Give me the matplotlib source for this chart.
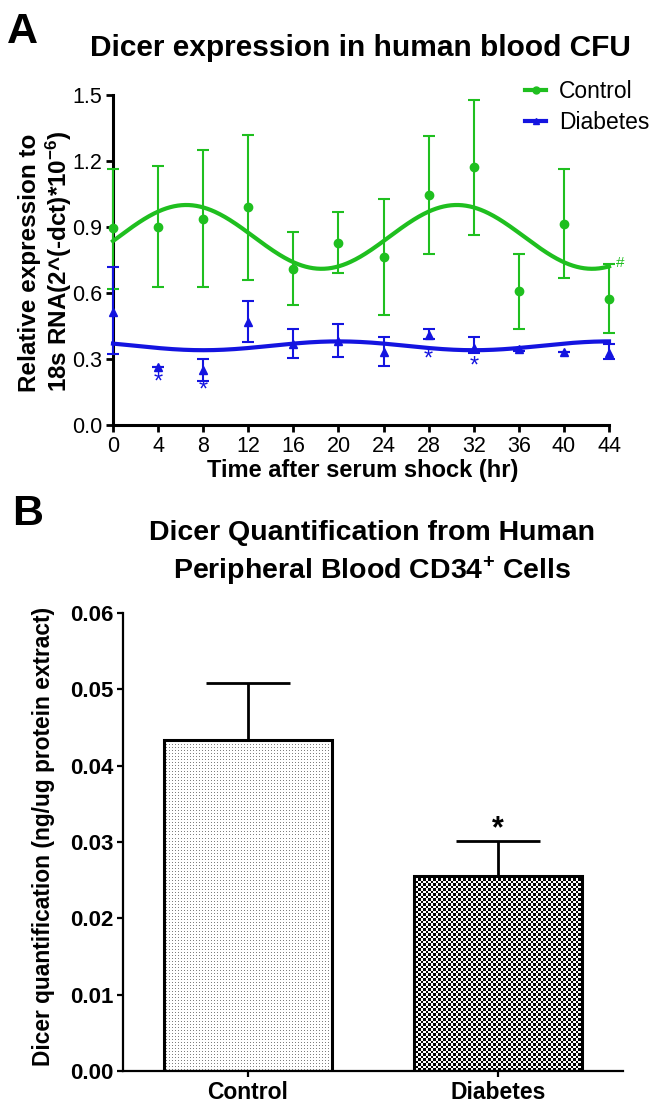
import numpy as np
import matplotlib
matplotlib.use('Agg')
import matplotlib.pyplot as plt
from matplotlib.lines import Line2D

W, H, DPI = 653, 1115, 100
plt.rcParams['font.family'] = ['Liberation Sans', 'DejaVu Sans']
plt.rcParams['mathtext.fontset'] = 'custom'
plt.rcParams['mathtext.rm'] = 'Liberation Sans'
plt.rcParams['mathtext.bf'] = 'Liberation Sans:bold'
plt.rcParams['mathtext.it'] = 'Liberation Sans:italic'

# ---------------- Panel A data ----------------
time_h = [0, 4, 8, 12, 16, 20, 24, 28, 32, 36, 40, 44]
ctrl_mean = [0.894, 0.902, 0.938, 0.989, 0.710, 0.828, 0.763, 1.047, 1.171, 0.607, 0.915, 0.574]
ctrl_low = [0.620, 0.628, 0.628, 0.659, 0.545, 0.689, 0.498, 0.779, 0.864, 0.438, 0.669, 0.420]
ctrl_high = [1.165, 1.178, 1.248, 1.319, 0.878, 0.970, 1.029, 1.313, 1.477, 0.778, 1.163, 0.730]
diab_mean = [0.514, 0.263, 0.249, 0.467, 0.366, 0.384, 0.332, 0.408, 0.350, 0.344, 0.334, 0.326]
diab_low = [0.325, 0.263, 0.201, 0.379, 0.305, 0.310, 0.270, 0.390, 0.326, 0.336, 0.334, 0.298]
diab_high = [0.718, 0.263, 0.301, 0.565, 0.438, 0.458, 0.402, 0.435, 0.400, 0.352, 0.334, 0.366]

# cosinor fits (24 h period)
ctrl_fit_mesor, ctrl_fit_amp, ctrl_fit_acro = 0.855, 0.145, 6.5
diab_fit_mesor, diab_fit_amp, diab_fit_acro = 0.360, 0.020, 20.0
fit_period = 24.0

star_times = [4, 8, 28, 32]
star_y = [0.192, 0.157, 0.297, 0.265]

xticks_a = [0, 4, 8, 12, 16, 20, 24, 28, 32, 36, 40, 44]
yticks_a = [0.0, 0.3, 0.6, 0.9, 1.2, 1.5]

# ---------------- Panel B data ----------------
groups = ['Control', 'Diabetes']
dicer_mean = [0.0434, 0.0255]
dicer_sem = [0.0074, 0.0046]
yticks_b = [0.00, 0.01, 0.02, 0.03, 0.04, 0.05, 0.06]

GREEN = '#1fbf1f'
BLUE = '#1414e0'

fig = plt.figure(figsize=(W / DPI, H / DPI), dpi=DPI)


def fx(px):
    return px / W


def fy(py):
    return 1 - py / H


# ---------------- Panel A ----------------
axA = fig.add_axes([fx(113), fy(425), fx(609) - fx(113), fy(95) - fy(425)])
t = np.array(time_h, dtype=float)
cm = np.array(ctrl_mean); dm = np.array(diab_mean)
c_err = [cm - np.array(ctrl_low), np.array(ctrl_high) - cm]
d_err = [dm - np.array(diab_low), np.array(diab_high) - dm]

tt = np.linspace(0, 44, 400)
axA.plot(tt, ctrl_fit_mesor + ctrl_fit_amp * np.cos(2 * np.pi * (tt - ctrl_fit_acro) / fit_period),
         color=GREEN, lw=3.0, zorder=3, clip_on=False)
axA.plot(tt, diab_fit_mesor + diab_fit_amp * np.cos(2 * np.pi * (tt - diab_fit_acro) / fit_period),
         color=BLUE, lw=3.0, zorder=3, clip_on=False)
eb1 = axA.errorbar(t, cm, yerr=c_err, fmt='o', color=GREEN, ms=6, elinewidth=1.5,
                   capsize=4.5, capthick=1.5, zorder=4, clip_on=False)
eb2 = axA.errorbar(t, dm, yerr=d_err, fmt='^', color=BLUE, ms=5.5, elinewidth=1.5,
                   capsize=4.5, capthick=1.5, zorder=4, clip_on=False)
for eb in (eb1, eb2):
    for art in eb.lines[1] + eb.lines[2]:
        art.set_clip_on(False)
    eb.lines[0].set_clip_on(False)

for tx, ty in zip(star_times, star_y):
    axA.text(tx, ty, '*', color=BLUE, fontsize=17, ha='center', va='center')
axA.text(44.6, 0.735, '#', color=GREEN, fontsize=11, ha='left', va='center')

axA.set_xlim(0, 44)
axA.set_ylim(0, 1.5)
axA.set_xticks(xticks_a)
axA.set_yticks(yticks_a)
axA.set_yticklabels([f'{v:.1f}' for v in yticks_a])
for s in ['top', 'right']:
    axA.spines[s].set_visible(False)
for s in ['left', 'bottom']:
    axA.spines[s].set_linewidth(2.2)
axA.tick_params(axis='both', direction='out', length=5, width=2.0, labelsize=15.5, pad=2.5)
axA.tick_params(axis='x', pad=3.0)

leg_handles = [Line2D([], [], color=GREEN, lw=3, marker='o', ms=5),
               Line2D([], [], color=BLUE, lw=3, marker='^', ms=5)]
fig.legend(leg_handles, ['Control', 'Diabetes'], loc='upper left',
           bbox_to_anchor=(fx(514), fy(69)), frameon=False, fontsize=16.5,
           handlelength=0.9, handletextpad=0.55, labelspacing=0.35, borderpad=0)

fig.text(fx(360), fy(48), 'Dicer expression in human blood CFU', fontsize=21.5,
         fontweight='bold', ha='center', va='center')
fig.text(fx(7), fy(43), 'A', fontsize=31, fontweight='bold', ha='left', va='baseline')
fig.text(fx(46), fy(392), 'Relative expression to\n18s RNA(2^(-dct)*10$^{\\mathbf{-6}}$)',
         fontsize=17.5, fontweight='bold', rotation=90, ha='center', va='bottom',
         multialignment='left', linespacing=1.1)
fig.text(fx(363), fy(477), 'Time after serum shock (hr)', fontsize=17,
         fontweight='bold', ha='center', va='baseline')

# ---------------- Panel B ----------------
axB = fig.add_axes([fx(123), fy(1071), fx(623) - fx(123), fy(613) - fy(1071)])
xpos = np.arange(len(groups))
axB.set_xlim(-0.5, 1.5)
axB.set_ylim(0, 0.06)
bars = axB.bar(xpos, dicer_mean, width=0.67, facecolor='none', edgecolor='black',
               linewidth=2.2, zorder=3)
axB.errorbar(xpos, dicer_mean, yerr=[np.zeros(len(dicer_sem)), dicer_sem], fmt='none',
             ecolor='black', elinewidth=2.0, capsize=30, capthick=2.0, zorder=2)

# textures
fig.canvas.draw()
bb = axB.get_window_extent()
pw, ph = int(round(bb.width)), int(round(bb.height))
ii, jj = np.mgrid[0:ph, 0:pw]
dots = np.ones((ph, pw, 3))
mask = (ii % 3 == 1) & (jj % 3 == 1)
dots[mask] = 0.5
check = np.ones((ph, pw, 3))
cmask = ((np.floor(ii / 2.5) + np.floor(jj / 2.5)) % 2) == 0
check[cmask] = 0.0
for bar, tex in zip(bars, [dots, check]):
    im = axB.imshow(tex, extent=(-0.5, 1.5, 0, 0.06), aspect='auto',
                    interpolation='nearest', zorder=2.5, origin='lower')
    im.set_clip_path(bar)
axB.set_xlim(-0.5, 1.5)
axB.set_ylim(0, 0.06)

axB.text(1, 0.0317, '*', fontsize=22, fontweight='bold', ha='center', va='center')
axB.set_xticks(xpos)
axB.set_xticklabels(groups, fontweight='bold', fontsize=16.5)
axB.set_yticks(yticks_b)
axB.set_yticklabels([f'{v:.2f}' for v in yticks_b], fontweight='bold', fontsize=16)
for s in ['top', 'right']:
    axB.spines[s].set_visible(False)
for s in ['left', 'bottom']:
    axB.spines[s].set_linewidth(1.6)
axB.tick_params(axis='both', direction='out', length=4.5, width=1.6, pad=2)
axB.tick_params(axis='x', pad=3)

fig.text(fx(12), fy(525), 'B', fontsize=31, fontweight='bold', ha='left', va='baseline')
fig.text(fx(372), fy(554), 'Dicer Quantification from Human\nPeripheral Blood CD34$^{\\mathbf{+}}$ Cells',
         fontsize=20.5, fontweight='bold', ha='center', va='center', linespacing=1.35)
fig.text(fx(44), fy(836), 'Dicer quantification (ng/ug protein extract)', fontsize=16.4,
         fontweight='bold', rotation=90, ha='center', va='center')

fig.savefig('out.png', dpi=DPI)
